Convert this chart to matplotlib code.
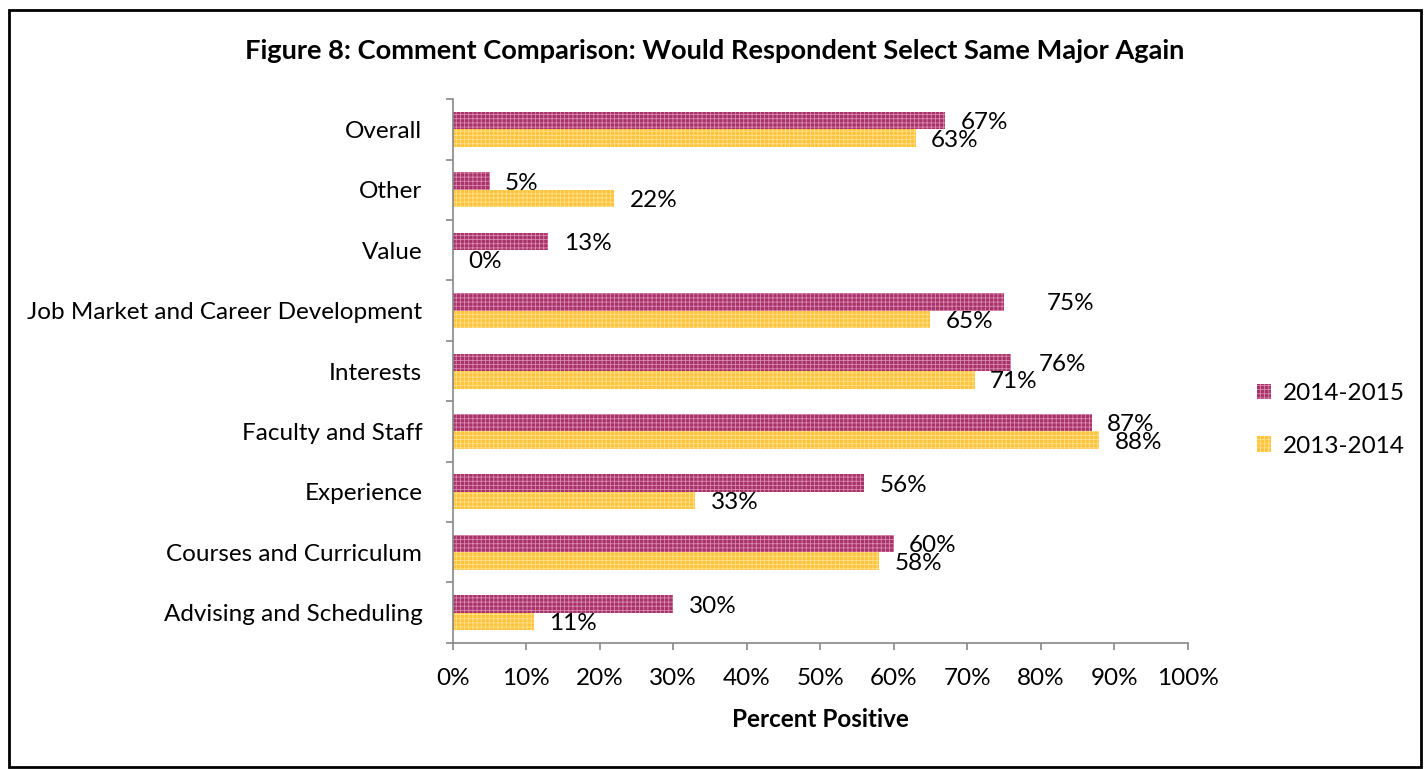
import numpy as np
import matplotlib.pyplot as plt
from matplotlib.patches import Rectangle

plt.rcParams['font.family'] = ['Lato', 'DejaVu Sans']
plt.rcParams['hatch.linewidth'] = 0.6

categories = ['Advising and Scheduling', 'Courses and Curriculum', 'Experience',
              'Faculty and Staff', 'Interests', 'Job Market and Career Development',
              'Value', 'Other', 'Overall']
vals_1415 = [30, 60, 56, 87, 76, 75, 13, 5, 67]
vals_1314 = [11, 58, 33, 88, 71, 65, 0, 22, 63]
series_names = ['2014-2015', '2013-2014']

fig = plt.figure(figsize=(14.24, 7.69), dpi=100)
ax = fig.add_axes([0.318, 0.164, 0.516, 0.707])

y = np.arange(len(categories))
h = 0.29
b1 = ax.barh(y + h / 2, vals_1415, height=h, color='#A8326A', edgecolor='#D98AAE',
             hatch='++++', linewidth=0, label=series_names[0])
b2 = ax.barh(y - h / 2, vals_1314, height=h, color='#FFC43D', edgecolor='#FFE08A',
             hatch='++++', linewidth=0, label=series_names[1])

fs = 17.5
# a couple of labels were nudged by hand in the original
extra = {(0, 5): 20, (0, 4): 9}
for s, bars in enumerate([b1, b2]):
    for i, bar in enumerate(bars):
        w = bar.get_width()
        ax.annotate('%d%%' % round(w), (w, bar.get_y() + bar.get_height() / 2),
                    xytext=(11 + extra.get((s, i), 0), -1.5), textcoords='offset points',
                    va='center', ha='left', fontsize=fs)

ax.set_xlim(0, 100)
ax.set_ylim(-0.5, len(categories) - 0.5)
ax.set_xticks(np.arange(0, 101, 10))
ax.set_xticklabels(['%d%%' % v for v in range(0, 101, 10)], fontsize=fs)
ax.set_yticks(y)
ax.set_yticklabels(categories, fontsize=fs)
ax.set_yticks(np.arange(-0.5, len(categories), 1), minor=True)
ax.tick_params(axis='y', which='major', length=0, pad=22)
ax.tick_params(axis='y', which='minor', length=5, color='#888888', width=1.2)
ax.tick_params(axis='x', length=5, color='#888888', width=1.2, pad=13)
for sp in ['top', 'right']:
    ax.spines[sp].set_visible(False)
for sp in ['left', 'bottom']:
    ax.spines[sp].set_color('#888888')
    ax.spines[sp].set_linewidth(1.2)

ax.set_xlabel('Percent Positive', fontsize=fs, fontweight='bold', labelpad=14)
fig.text(0.502, 0.934, 'Figure 8: Comment Comparison: Would Respondent Select Same Major Again',
         ha='center', va='center', fontsize=19.6, fontweight='bold')

ax.legend(loc='center left', bbox_to_anchor=(1.064, 0.41), frameon=False, fontsize=fs,
          handlelength=0.6, handleheight=0.6, labelspacing=1.3, handletextpad=0.5)

fig.patches.append(Rectangle((0.006, 0.003), 0.992, 0.984, transform=fig.transFigure,
                             fill=False, edgecolor='black', linewidth=2))

fig.savefig('out.png', dpi=100)
